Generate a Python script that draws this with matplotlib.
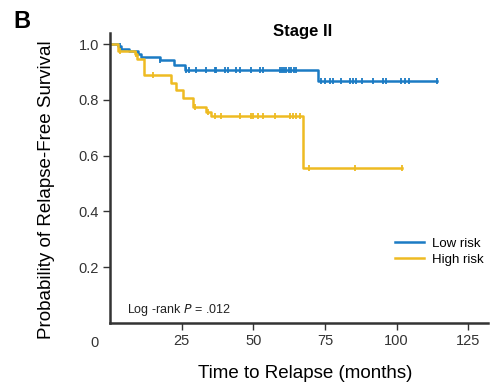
import numpy as np
import matplotlib
matplotlib.use('Agg')
import matplotlib.pyplot as plt
from matplotlib import font_manager

names = {f.name for f in font_manager.fontManager.ttflist}
narrow = 'Liberation Sans Narrow' if 'Liberation Sans Narrow' in names else 'Liberation Sans'
plt.rcParams['font.family'] = [narrow, 'DejaVu Sans']

# Kaplan-Meier step points (time in months, survival)
low_t = [0, 2.8, 3.9, 6.8, 9.7, 10.7, 17.3, 22.5, 26.0, 72.6, 114.2]
low_s = [1.0, 0.994, 0.982, 0.975, 0.963, 0.954, 0.943, 0.925, 0.907, 0.866, 0.866]
high_t = [0, 2.8, 8.6, 9.5, 11.8, 21.4, 23.1, 25.5, 28.9, 33.6, 35.4, 67.3, 102.0]
high_s = [1.0, 0.976, 0.964, 0.946, 0.889, 0.86, 0.836, 0.806, 0.776, 0.756, 0.741, 0.555, 0.555]

# censored times
low_cens = [3.4, 17.3, 26.6, 27.5, 30.1, 33.6, 36.5, 37.1, 40.0, 41.1, 44.1, 45.3,
            49.3, 52.2, 53.4, 59.2, 60.0, 60.8, 61.5, 62.5, 63.3, 64.2, 65.0,
            73.7, 74.9, 76.6, 77.8, 80.7, 83.6, 84.8, 86.0, 88.1, 91.8, 95.1,
            96.3, 101.7, 102.9, 104.4, 114.2]
high_cens = [3.4, 9.2, 15.0, 29.5, 34.2, 36.5, 38.8, 45.2, 49.3, 49.9, 51.6, 53.4,
             57.5, 62.7, 63.8, 65.0, 66.2, 69.3, 85.4, 102.0]

blue = '#1b7bc4'
yellow = '#eebb22'

fig = plt.figure(figsize=(4.9, 3.83), dpi=100)
ax = fig.add_axes([0.2245, 0.157, 0.772, 0.757])


def km(ax, t, s, cens, color, label):
    ax.step(t, s, where='post', color=color, lw=1.8, label=label)
    idx = np.searchsorted(t, cens, side='right') - 1
    ax.plot(cens, np.array(s)[idx], ls='none', marker='|', ms=5, mew=1.3, color=color)


km(ax, low_t, low_s, low_cens, blue, 'Low risk')
km(ax, high_t, high_s, high_cens, yellow, 'High risk')

ax.set_xlim(0, 132)
ax.set_ylim(0, 1.04)
ax.set_xticks([25, 50, 75, 100, 125])
ax.set_yticks([0.2, 0.4, 0.6, 0.8, 1.0])
ax.set_yticklabels(['0.2', '0.4', '0.6', '0.8', '1.0'])
for sp in ['top', 'right']:
    ax.spines[sp].set_visible(False)
ax.spines['left'].set_linewidth(1.8)
ax.spines['bottom'].set_linewidth(1.8)
ax.spines['left'].set_color('#333333')
ax.spines['bottom'].set_color('#333333')
ax.tick_params(length=5, width=1, colors='#333333', labelsize=10.5, pad=3)
ax.text(-0.03, -0.045, '0', transform=ax.transAxes, ha='right', va='top',
        fontsize=10.5, color='#333333')

ax.set_xlabel('Time to Relapse (months)', fontsize=13.5)
ax.set_ylabel('Probability of Relapse-Free Survival', fontsize=13.5)
ax.xaxis.set_label_coords(0.515, -0.145)
ax.yaxis.set_label_coords(-0.145, 0.46)
ax.text(0.51, 0.99, 'Stage II', transform=ax.transAxes, ha='center', va='baseline',
        fontsize=12, fontweight='bold')
fig.text(0.028, 0.975, 'B', fontsize=17, fontweight='bold', va='top')

ax.text(0.045, 0.035, 'Log -rank $\\it{P}$ = .012', transform=ax.transAxes,
        fontsize=9, color='#222222')
ax.legend(loc='center right', bbox_to_anchor=(1.02, 0.245), frameon=False,
          fontsize=9.5, handlelength=2.2, labelspacing=0.3, handletextpad=0.6)

fig.savefig('out.png', dpi=100)
